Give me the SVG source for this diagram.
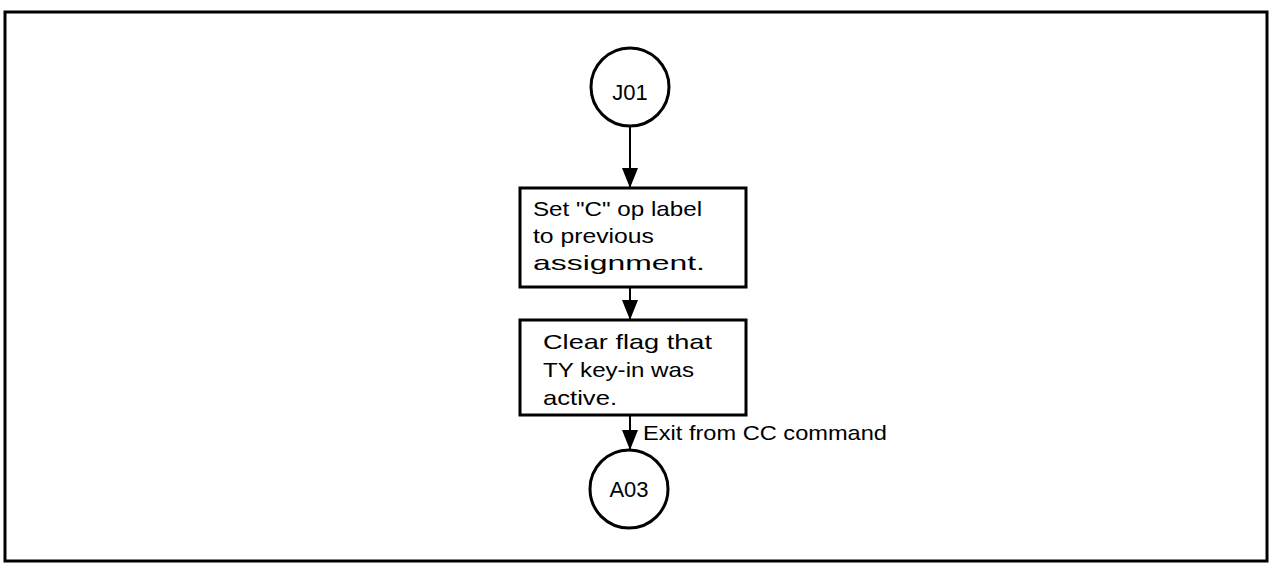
<svg xmlns="http://www.w3.org/2000/svg" width="1269" height="563" viewBox="0 0 1269 563">
  <style>
    .frame { fill: none; stroke: #000; stroke-width: 3; }
    .node { fill: #fff; stroke: #000; stroke-width: 3; }
    .link { fill: none; stroke: #000; stroke-width: 2; }
    text { font-family: "Liberation Sans", Arial, sans-serif; font-size: 21px; fill: #000; }
    .conn { text-anchor: middle; font-size: 22px; }
  </style>
  <defs>
    <!-- filled triangular arrowhead, tip at the end of the line -->
    <marker id="arrow" markerUnits="userSpaceOnUse" markerWidth="20" markerHeight="16" refX="20" refY="8" orient="auto" viewBox="0 0 20 16">
      <path d="M0,0 L20,8 L0,16 Z" fill="#000"/>
    </marker>
  </defs>

  <rect class="frame" x="5" y="12" width="1262" height="549"/>

  <g id="connectors">
    <line class="link" x1="630" y1="126" x2="630" y2="188" marker-end="url(#arrow)"/>
    <line class="link" x1="630" y1="287" x2="630" y2="320" marker-end="url(#arrow)"/>
    <line class="link" x1="630" y1="415" x2="630" y2="450" marker-end="url(#arrow)"/>
    <text x="643" y="440" textLength="244" lengthAdjust="spacingAndGlyphs">Exit from CC command</text>
  </g>

  <g id="J01">
    <circle class="node" cx="630" cy="87" r="39"/>
    <text class="conn" x="630" y="100">J01</text>
  </g>

  <g id="set-op-label">
    <rect class="node" x="520" y="188" width="226" height="99"/>
    <text x="533" y="216" textLength="169" lengthAdjust="spacingAndGlyphs">Set "C" op label</text>
    <text x="533" y="243" textLength="121" lengthAdjust="spacingAndGlyphs">to previous</text>
    <text x="533" y="270" textLength="172" lengthAdjust="spacingAndGlyphs">assignment.</text>
  </g>

  <g id="clear-flag">
    <rect class="node" x="520" y="320" width="226" height="95"/>
    <text x="543" y="349" textLength="169" lengthAdjust="spacingAndGlyphs">Clear flag that</text>
    <text x="543" y="377" textLength="151" lengthAdjust="spacingAndGlyphs">TY key-in was</text>
    <text x="543" y="405" textLength="74" lengthAdjust="spacingAndGlyphs">active.</text>
  </g>

  <g id="A03">
    <circle class="node" cx="629" cy="489" r="39"/>
    <text class="conn" x="629" y="497">A03</text>
  </g>
</svg>
